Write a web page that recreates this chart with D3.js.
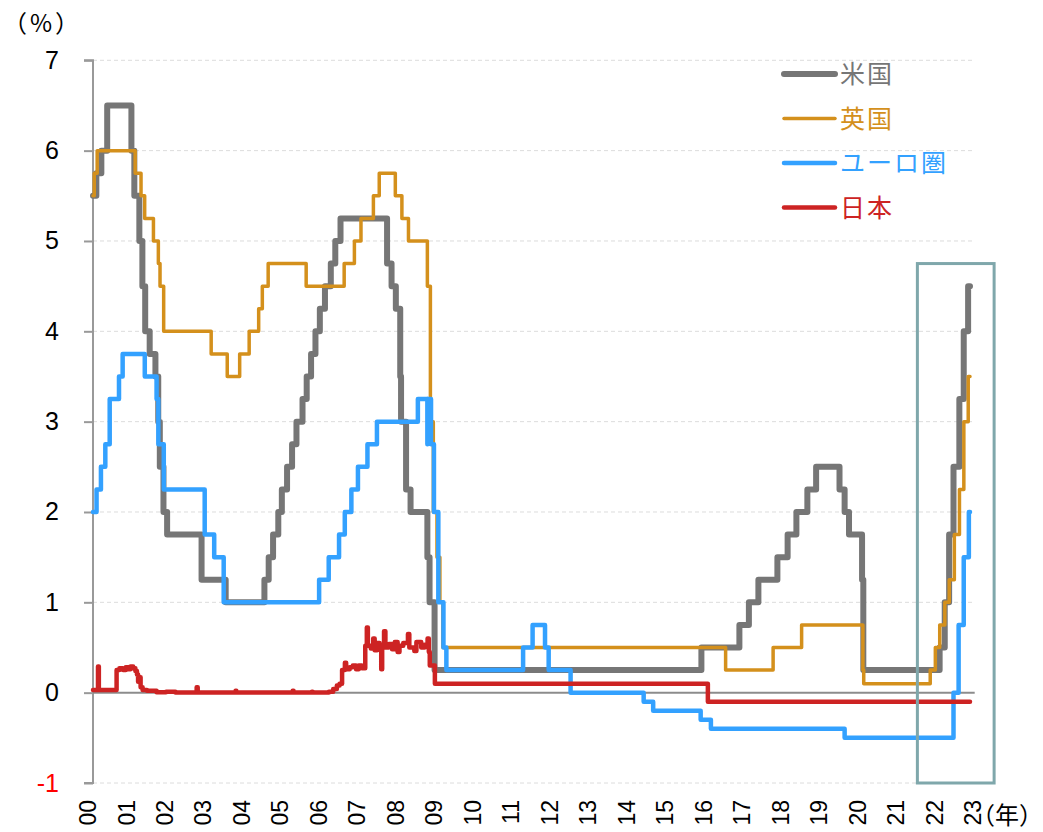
<!DOCTYPE html>
<html>
<head>
<meta charset="utf-8">
<script src="https://cdn.jsdelivr.net/npm/d3@7"></script>
<style>
  html, body { margin: 0; padding: 0; background: #fff; }
  svg { display: block; }
  text { font-family: "Liberation Sans", Arial, "Noto Sans CJK JP", sans-serif; }
  text.cjk { font-family: "Noto Sans CJK JP", "Noto Sans CJK SC", sans-serif; }
</style>
</head>
<body>
<svg id="chart" width="1043" height="832"></svg>
<script>
// ---------------- DATA ----------------
const seriesNames = ["米国", "英国", "ユーロ圏", "日本"];
const yTicks = [-1, 0, 1, 2, 3, 4, 5, 6, 7];
const xLabels = ["00","01","02","03","04","05","06","07","08","09","10","11",
                 "12","13","14","15","16","17","18","19","20","21","22","23"];

// US policy rate (upper bound), step changes
const usRates = [
  ["2000-01-01",5.5],["2000-02-02",5.75],["2000-03-21",6.0],["2000-05-16",6.5],
  ["2001-01-03",6.0],["2001-01-31",5.5],["2001-03-20",5.0],["2001-04-18",4.5],
  ["2001-05-15",4.0],["2001-06-27",3.75],["2001-08-21",3.5],["2001-09-17",3.0],
  ["2001-10-02",2.5],["2001-11-06",2.0],["2001-12-11",1.75],["2002-11-06",1.25],
  ["2003-06-25",1.0],["2004-06-30",1.25],["2004-08-10",1.5],["2004-09-21",1.75],
  ["2004-11-10",2.0],["2004-12-14",2.25],["2005-02-02",2.5],["2005-03-22",2.75],
  ["2005-05-03",3.0],["2005-06-30",3.25],["2005-08-09",3.5],["2005-09-20",3.75],
  ["2005-11-01",4.0],["2005-12-13",4.25],["2006-01-31",4.5],["2006-03-28",4.75],
  ["2006-05-10",5.0],["2006-06-29",5.25],["2007-09-18",4.75],["2007-10-31",4.5],
  ["2007-12-11",4.25],["2008-01-22",3.5],["2008-01-30",3.0],["2008-03-18",2.25],
  ["2008-04-30",2.0],["2008-10-08",1.5],["2008-10-29",1.0],["2008-12-16",0.25],
  ["2015-12-16",0.5],["2016-12-14",0.75],["2017-03-15",1.0],["2017-06-14",1.25],
  ["2017-12-13",1.5],["2018-03-21",1.75],["2018-06-13",2.0],["2018-09-26",2.25],
  ["2018-12-19",2.5],["2019-07-31",2.25],["2019-09-18",2.0],["2019-10-30",1.75],
  ["2020-03-03",1.25],["2020-03-15",0.25],["2022-03-16",0.5],["2022-05-04",1.0],
  ["2022-06-15",1.75],["2022-07-27",2.5],["2022-09-21",3.25],["2022-11-02",4.0],
  ["2022-12-14",4.5],["2023-01-01",4.5]
];

// UK Bank Rate
const ukRates = [
  ["2000-01-01",5.5],["2000-01-13",5.75],["2000-02-10",6.0],["2001-02-08",5.75],
  ["2001-04-05",5.5],["2001-05-10",5.25],["2001-08-02",5.0],["2001-09-18",4.75],
  ["2001-10-04",4.5],["2001-11-08",4.0],["2003-02-06",3.75],["2003-07-10",3.5],
  ["2003-11-06",3.75],["2004-02-05",4.0],["2004-05-06",4.25],["2004-06-10",4.5],
  ["2004-08-05",4.75],["2005-08-04",4.5],["2006-08-03",4.75],["2006-11-09",5.0],
  ["2007-01-11",5.25],["2007-05-10",5.5],["2007-07-05",5.75],["2007-12-06",5.5],
  ["2008-02-07",5.25],["2008-04-10",5.0],["2008-10-08",4.5],["2008-11-06",3.0],
  ["2008-12-04",2.0],["2009-01-08",1.5],["2009-02-05",1.0],["2009-03-05",0.5],
  ["2016-08-04",0.25],["2017-11-02",0.5],["2018-08-02",0.75],["2020-03-11",0.25],
  ["2020-03-19",0.1],["2021-12-16",0.25],["2022-02-03",0.5],["2022-03-17",0.75],
  ["2022-05-05",1.0],["2022-06-16",1.25],["2022-08-04",1.75],["2022-09-22",2.25],
  ["2022-11-03",3.0],["2022-12-15",3.5],["2023-01-01",3.5]
];

// Euro area deposit facility rate
const euRates = [
  ["2000-01-01",2.0],["2000-02-04",2.25],["2000-03-17",2.5],["2000-04-28",2.75],
  ["2000-06-09",3.25],["2000-09-06",3.5],["2000-10-11",3.75],["2001-05-11",3.5],
  ["2001-09-01",3.25],["2001-09-18",2.75],["2001-11-09",2.25],["2002-12-06",1.75],
  ["2003-03-07",1.5],["2003-06-06",1.0],["2005-12-06",1.25],["2006-03-08",1.5],
  ["2006-06-15",1.75],["2006-08-09",2.0],["2006-10-11",2.25],["2006-12-13",2.5],
  ["2007-03-14",2.75],["2007-06-13",3.0],["2008-07-09",3.25],["2008-10-08",2.75],
  ["2008-10-09",3.25],["2008-11-12",2.75],["2008-12-10",2.0],["2009-01-21",1.0],
  ["2009-03-11",0.5],["2009-04-08",0.25],["2011-04-13",0.5],["2011-07-13",0.75],
  ["2011-11-09",0.5],["2011-12-14",0.25],["2012-07-11",0.0],["2014-06-11",-0.1],
  ["2014-09-10",-0.2],["2015-12-09",-0.3],["2016-03-16",-0.4],["2019-09-18",-0.5],
  ["2022-07-27",0.0],["2022-09-14",0.75],["2022-11-02",1.5],["2022-12-21",2.0],
  ["2023-01-01",2.0]
];

// Japan call rate / policy rate
const jpRates = [
  ["2000-01-01",0.03],["2000-02-12",0.03],["2000-02-18",0.29],["2000-02-26",0.03],
  ["2000-08-14",0.25],["2000-09-10",0.27],["2000-10-15",0.25],["2000-11-10",0.28],
  ["2000-12-05",0.26],["2000-12-25",0.29],["2001-01-20",0.27],["2001-02-10",0.24],
  ["2001-02-25",0.2],["2001-03-08",0.12],["2001-03-20",0.17],["2001-04-01",0.06],
  ["2001-04-20",0.03],["2001-06-01",0.02],["2001-09-01",0.005],["2001-12-01",0.01],
  ["2002-03-01",0.002],["2002-09-20",0.06],["2002-09-30",0.002],["2003-03-01",0.001],
  ["2003-09-28",0.02],["2003-10-05",0.001],["2004-06-01",0.001],["2005-03-28",0.02],
  ["2005-04-05",0.001],["2005-09-28",0.01],["2005-10-05",0.001],["2006-03-10",0.01],
  ["2006-04-20",0.04],["2006-05-25",0.08],["2006-06-20",0.1],["2006-07-14",0.25],
  ["2006-08-10",0.33],["2006-08-22",0.26],["2006-09-25",0.28],["2006-10-25",0.3],
  ["2006-11-25",0.26],["2006-12-20",0.3],["2007-01-20",0.27],["2007-02-21",0.52],
  ["2007-03-08",0.72],["2007-03-18",0.52],["2007-04-15",0.49],["2007-05-08",0.6],
  ["2007-05-22",0.47],["2007-06-15",0.55],["2007-07-08",0.52],["2007-07-24",0.26],
  ["2007-08-02",0.5],["2007-08-20",0.68],["2007-09-02",0.5],["2007-10-05",0.54],
  ["2007-11-05",0.48],["2007-12-01",0.56],["2007-12-28",0.45],["2008-01-15",0.52],
  ["2008-02-20",0.55],["2008-04-05",0.65],["2008-04-18",0.5],["2008-06-05",0.46],
  ["2008-06-25",0.56],["2008-08-10",0.5],["2008-09-12",0.53],["2008-10-10",0.6],
  ["2008-10-22",0.45],["2008-10-31",0.3],["2008-12-19",0.1],["2016-02-16",-0.1],
  ["2023-01-01",-0.1]
];

// ---------------- CHART ----------------
const parse = d3.timeParse("%Y-%m-%d");
const svg = d3.select("#chart");

const x = d3.scaleTime()
  .domain([parse("2000-01-01"), parse("2023-01-01")])
  .range([93, 970]);
const y = d3.scaleLinear().domain([-1, 7]).range([783, 60.3]);
const xLab = d3.scalePoint().domain(xLabels).range([88, 973]);
const gridEnd = x(parse("2023-02-15"));

// grid lines
svg.append("g").selectAll("line").data(yTicks.filter(d => d !== 0)).join("line")
  .attr("x1", 93).attr("x2", gridEnd)
  .attr("y1", d => y(d)).attr("y2", d => y(d))
  .attr("stroke", "#dcdcdc").attr("stroke-width", 1)
  .attr("stroke-dasharray", "4,3");

// y axis
const yAxis = d3.axisLeft(y).tickValues(yTicks).tickSize(9).tickPadding(25)
  .tickFormat(d => String(d));
const gy = svg.append("g").attr("transform", "translate(93,0)").call(yAxis);
gy.select(".domain").attr("stroke", "#999").attr("stroke-width", 2)
  .attr("d", `M-9,${y(7)}H0V${y(-1)}H-9`);
gy.selectAll(".tick line").attr("stroke", "#999").attr("stroke-width", 2);
gy.selectAll(".tick text")
  .attr("font-size", 25).attr("font-family", "Liberation Sans, Arial, sans-serif")
  .attr("fill", d => d < 0 ? "#ff0000" : "#000");

// zero line
svg.append("line")
  .attr("x1", 93).attr("x2", gridEnd)
  .attr("y1", y(0)).attr("y2", y(0))
  .attr("stroke", "#8c8c8c").attr("stroke-width", 2);

// series
const colors = ["#767676", "#d4901c", "#33a1ff", "#cd2323"];
const widths = [6, 3.5, 4.5, 4.5];
const allData = [usRates, ukRates, euRates, jpRates];
const line = d3.line()
  .x(d => x(parse(d[0]))).y(d => y(d[1]))
  .curve(d3.curveStepAfter);

svg.append("g").selectAll("path").data(allData).join("path")
  .attr("d", d => line(d))
  .attr("fill", "none")
  .attr("stroke", (d, i) => colors[i])
  .attr("stroke-width", (d, i) => widths[i])
  .attr("stroke-linejoin", "round")
  .attr("stroke-linecap", "round");

// highlight box (2021-08 .. 2023-08, -1 .. 4.75)
svg.append("rect")
  .attr("x", x(parse("2021-08-15")))
  .attr("y", y(4.75))
  .attr("width", x(parse("2023-08-20")) - x(parse("2021-08-15")))
  .attr("height", y(-1) - y(4.75))
  .attr("fill", "none")
  .attr("stroke", "#7fa7ab").attr("stroke-width", 3);

// x labels
svg.append("g").selectAll("text").data(xLabels).join("text")
  .attr("transform", d => `translate(${xLab(d)},800) rotate(-90)`)
  .attr("text-anchor", "end")
  .attr("dy", "0.35em")
  .attr("font-size", 23)
  .attr("font-family", "Liberation Sans, Arial, sans-serif")
  .attr("fill", "#000")
  .text(d => d);

// unit labels
svg.append("text").attr("class", "cjk")
  .attr("x", 3).attr("y", 24).attr("dy", "0.35em")
  .attr("font-size", 24).attr("letter-spacing", "3px")
  .attr("fill", "#000").text("（%）");
svg.append("text").attr("class", "cjk")
  .attr("x", 1043).attr("y", 816).attr("dy", "0.35em")
  .attr("text-anchor", "end")
  .attr("font-size", 24)
  .attr("fill", "#000").text("（年）");

// legend
const legend = svg.append("g");
const ly = d3.scalePoint().domain(seriesNames).range([74, 207.5]);
const lg = legend.selectAll("g").data(seriesNames).join("g")
  .attr("transform", d => `translate(0,${ly(d)})`);
lg.append("line")
  .attr("x1", 784).attr("x2", 835)
  .attr("stroke", (d, i) => colors[i])
  .attr("stroke-width", (d, i) => widths[i])
  .attr("stroke-linecap", "round");
lg.append("text").attr("class", "cjk")
  .attr("x", 840).attr("dy", "0.36em")
  .attr("font-size", 25).attr("letter-spacing", "2px")
  .attr("fill", (d, i) => colors[i])
  .text(d => d);
</script>
</body>
</html>
